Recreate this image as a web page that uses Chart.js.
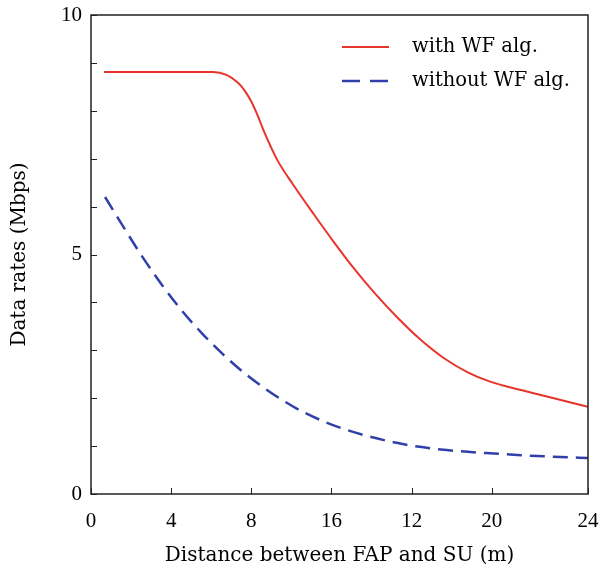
<!DOCTYPE html>
<html>
<head>
<meta charset="utf-8">
<script src="https://cdn.jsdelivr.net/npm/chart.js"></script>
<style>
  html, body { margin: 0; padding: 0; background: #fff; }
</style>
</head>
<body>
<canvas id="myChart" width="601" height="573"></canvas>
<script>
// distance (m) and rate (Mbps)
const distWF = [0.65, 6.1, 7.35, 7.95, 8.35, 8.6, 9.3, 10.1, 11.1, 12.1, 13.1, 14.1, 15.3, 16.45, 17.6, 18.8, 19.95, 21.45, 22.8, 24.8];
const rateWF = [8.81, 8.81, 8.58, 8.23, 7.87, 7.6, 6.97, 6.45, 5.85, 5.27, 4.72, 4.22, 3.68, 3.22, 2.84, 2.54, 2.34, 2.17, 2.03, 1.82];

const distNoWF = [0.7, 1.7, 2.55, 3.55, 4.55, 5.55, 6.55, 7.55, 8.55, 9.55, 10.55, 11.7, 12.6, 13.8, 15.1, 16.3, 17.45, 18.8, 20.1, 21.45, 22.95, 24.8];
const rateNoWF = [6.2, 5.52, 4.96, 4.36, 3.82, 3.35, 2.93, 2.56, 2.24, 1.96, 1.72, 1.5, 1.36, 1.21, 1.08, 0.99, 0.93, 0.88, 0.845, 0.81, 0.78, 0.75];

const seriesNames = ['with WF alg.', 'without WF alg.'];

// the x ticks in the figure are labelled out of order, kept as printed
const xTickValues = [0, 4, 8, 12, 16, 20, 24.8];
const xTickLabels = ['0', '4', '8', '16', '12', '20', '24'];

const TICK_FONT = '"Liberation Serif", serif';
const TEXT_FONT = '"DejaVu Serif", serif';

function toPoints(xs, ys) {
  return xs.map((x, i) => ({ x: x, y: ys[i] }));
}

// box around the plot, inward ticks and the legend
const frame = {
  id: 'frame',
  afterDraw(chart) {
    const { ctx, chartArea: a, scales } = chart;
    ctx.save();
    ctx.strokeStyle = '#222';
    ctx.lineWidth = 1.5;
    ctx.strokeRect(a.left, a.top, a.right - a.left, a.bottom - a.top);

    ctx.lineWidth = 1;
    ctx.beginPath();
    scales.y.ticks.forEach(t => {
      const y = Math.round(scales.y.getPixelForValue(t.value)) + 0.5;
      ctx.moveTo(a.left, y);
      ctx.lineTo(a.left + 6, y);
    });
    scales.x.ticks.forEach(t => {
      const x = Math.round(scales.x.getPixelForValue(t.value)) + 0.5;
      ctx.moveTo(x, a.bottom);
      ctx.lineTo(x, a.bottom - 6);
    });
    ctx.stroke();

    // legend
    ctx.font = '19.5px ' + TEXT_FONT;
    ctx.textBaseline = 'middle';
    ctx.fillStyle = '#000';
    chart.data.datasets.forEach((ds, i) => {
      const y = 47 + i * 34;
      ctx.strokeStyle = ds.borderColor;
      ctx.lineWidth = ds.borderWidth;
      ctx.setLineDash(ds.borderDash ? [18, 10] : []);
      ctx.beginPath();
      ctx.moveTo(342, y);
      ctx.lineTo(389, y);
      ctx.stroke();
      ctx.fillText(ds.label, 412, y);
    });
    ctx.restore();
  }
};

const ctx = document.getElementById('myChart');

new Chart(ctx, {
  type: 'line',
  data: {
    datasets: [
      {
        label: seriesNames[0],
        data: toPoints(distWF, rateWF),
        borderColor: '#e8352c',
        borderWidth: 2,
        pointRadius: 0,
        cubicInterpolationMode: 'monotone'
      },
      {
        label: seriesNames[1],
        data: toPoints(distNoWF, rateNoWF),
        borderColor: '#3040a8',
        borderWidth: 2.5,
        borderDash: [15, 8],
        pointRadius: 0,
        cubicInterpolationMode: 'monotone'
      }
    ]
  },
  options: {
    responsive: false,
    animation: false,
    layout: { padding: { top: 15, right: 13, left: 0, bottom: 0 } },
    plugins: {
      legend: { display: false },
      tooltip: { enabled: false }
    },
    scales: {
      x: {
        type: 'linear',
        min: 0,
        max: 24.8,
        grid: { display: false, drawTicks: false },
        border: { display: false },
        afterBuildTicks: scale => {
          scale.ticks = xTickValues.map(v => ({ value: v }));
        },
        afterFit: scale => {
          scale.height = 79;
          scale.paddingLeft = 0;
          scale.paddingRight = 0;
        },
        ticks: {
          color: '#000',
          padding: 15,
          maxRotation: 0,
          font: { family: TICK_FONT, size: 21 },
          callback: (value, index) => xTickLabels[index]
        },
        title: {
          display: true,
          text: 'Distance between FAP and SU (m)',
          color: '#000',
          padding: { top: 4, bottom: 5 },
          font: { family: TEXT_FONT, size: 20 }
        }
      },
      y: {
        min: 0,
        max: 10,
        grid: { display: false, drawTicks: false },
        border: { display: false },
        afterFit: scale => {
          scale.width = 91;
          scale.paddingTop = 0;
          scale.paddingBottom = 0;
        },
        ticks: {
          stepSize: 1,
          color: '#000',
          padding: 9,
          font: { family: TICK_FONT, size: 21 },
          callback: value => (value % 5 === 0 ? String(value) : '')
        },
        title: {
          display: true,
          text: 'Data rates (Mbps)',
          color: '#000',
          padding: { top: 8 },
          font: { family: TEXT_FONT, size: 20 }
        }
      }
    }
  },
  plugins: [frame]
});
</script>
</body>
</html>
